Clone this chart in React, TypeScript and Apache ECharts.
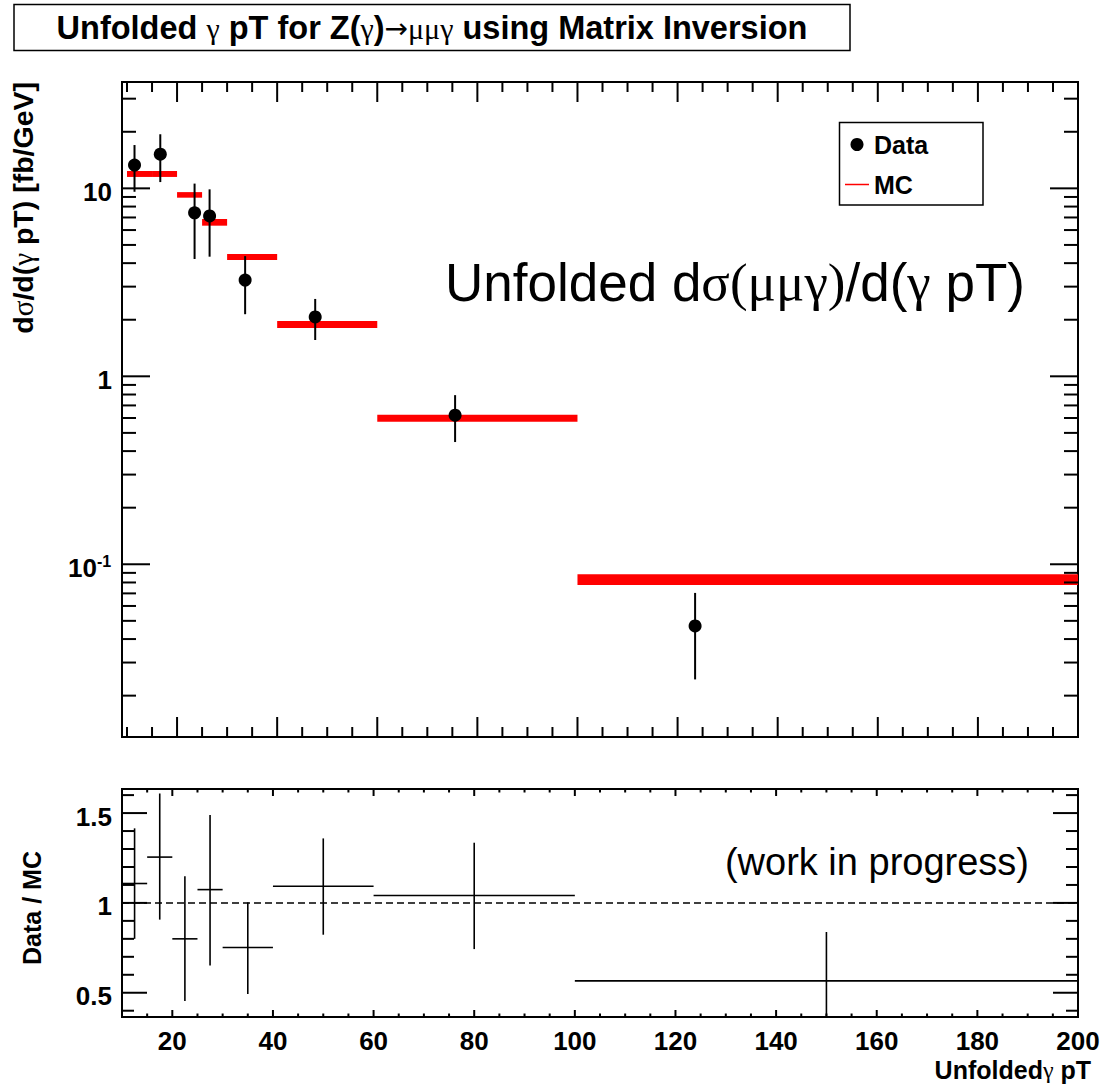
import React, { useEffect, useRef } from "react";
import * as echarts from "echarts";

const W = 1109;
const H = 1088;

// ---- axis ranges
const xRangeTop = [9, 200];
const xRangeBottom = [10, 200];
const yRangeTop = [0.01205, 36.8];
const yRangeBottom = [0.365, 1.634];

// ---- MC prediction (bin edges and band edges, fb/GeV)
const mcBinLo = [10, 15, 20, 25, 30, 40, 60, 100];
const mcBinHi = [15, 20, 25, 30, 40, 60, 100, 200];
const mcBandLo = [11.5, 11.5, 8.92, 6.33, 4.16, 1.81, 0.573, 0.0776];
const mcBandHi = [12.37, 12.37, 9.55, 6.87, 4.47, 1.97, 0.624, 0.0885];

// ---- unfolded data
const dataX = [11.5, 16.65, 23.5, 26.5, 33.6, 47.6, 75.55, 123.5];
const dataY = [13.3, 15.2, 7.41, 7.13, 3.25, 2.07, 0.621, 0.047];
const dataErrLo = [9.59, 10.8, 4.21, 4.33, 2.14, 1.56, 0.447, 0.0244];
const dataErrHi = [17.0, 19.4, 10.6, 9.88, 4.36, 2.58, 0.794, 0.0704];

// ---- ratio Data / MC
const ratioBinLo = [10, 15, 20, 25, 30, 40, 60, 100];
const ratioBinHi = [15, 20, 25, 30, 40, 60, 100, 200];
const ratioY = [1.108, 1.255, 0.8, 1.074, 0.752, 1.093, 1.041, 0.566];
const ratioErrLo = [0.8, 0.907, 0.454, 0.651, 0.493, 0.823, 0.743, 0.3];
const ratioErrHi = [1.415, 1.609, 1.149, 1.489, 1.003, 1.359, 1.335, 0.838];

// ---- ticks and tick labels
const xMajorTicks = [20, 40, 60, 80, 100, 120, 140, 160, 180, 200];
const xMinorTicks = [10, 15, 25, 30, 35, 45, 50, 55, 65, 70, 75, 85, 90, 95, 105, 110, 115, 125, 130, 135, 145, 150, 155, 165, 170, 175, 185, 190, 195];
const xTickLabels = ["20", "40", "60", "80", "100", "120", "140", "160", "180", "200"];
const yTopMajorTicks = [0.1, 1, 10];
const yTopMinorTicks = [0.02, 0.03, 0.04, 0.05, 0.06, 0.07, 0.08, 0.09, 0.2, 0.3, 0.4, 0.5, 0.6, 0.7, 0.8, 0.9, 2, 3, 4, 5, 6, 7, 8, 9, 20, 30];
const yTopLabelBase = ["10", "1", "10"];
const yTopLabelExp = ["-1", "", ""];
const yBotMajorTicks = [0.5, 1, 1.5];
const yBotMinorTicks = [0.4, 0.6, 0.7, 0.8, 0.9, 1.1, 1.2, 1.3, 1.4, 1.6];
const yBotTickLabels = ["0.5", "1", "1.5"];

const SANS = "Liberation Sans, Arial, Helvetica, sans-serif";
const SERIF = "Liberation Serif, DejaVu Serif, serif";

function txt(x: number, y: number, text: string, size: number, align: string, vAlign: string, extra: any = {}) {
  return {
    type: "text",
    x,
    y,
    style: {
      text,
      fill: "#000",
      fontSize: size,
      fontWeight: "bold",
      fontFamily: SANS,
      align,
      verticalAlign: vAlign,
      textAlign: align,
      textVerticalAlign: vAlign,
      ...extra,
    },
  };
}

function frameTicks(gi: number, xr: number[], yr: number[], L: any, opts: any) {
  return {
    type: "custom",
    xAxisIndex: gi,
    yAxisIndex: gi,
    silent: true,
    z: 6,
    data: [[xr[0], yr[0]]],
    renderItem: (_params: any, api: any) => {
      const ch: any[] = [];
      const lb = api.coord([xr[0], yr[0]]);
      const rt = api.coord([xr[1], yr[1]]);
      const left = lb[0], bottom = lb[1], right = rt[0], top = rt[1];
      const ln = (x1: number, y1: number, x2: number, y2: number) =>
        ch.push({ type: "line", shape: { x1, y1, x2, y2 }, style: { stroke: "#000", lineWidth: 2 } });
      const xt = (v: number, l: number) => {
        const x = api.coord([v, yr[0]])[0];
        ln(x, bottom, x, bottom - l);
        ln(x, top, x, top + l);
      };
      const yt = (v: number, l: number) => {
        const y = api.coord([xr[0], v])[1];
        ln(left, y, left + l, y);
        ln(right, y, right - l, y);
      };
      xMajorTicks.forEach((v) => xt(v, L.xMaj));
      xMinorTicks.forEach((v) => v > xr[0] && xt(v, L.xMin));
      opts.yMaj.forEach((v: number) => yt(v, L.yMaj));
      opts.yMin.forEach((v: number) => yt(v, L.yMin));
      opts.yMaj.forEach((v: number, i: number) => {
        const y = api.coord([xr[0], v])[1];
        if (opts.exp && opts.exp[i]) {
          ch.push(txt(97, y + 3.5, opts.yLab[i], 26, "right", "middle"));
          ch.push(txt(97, y - 3, opts.exp[i], 16, "left", "middle"));
        } else {
          ch.push(txt(112, y + 3.5, opts.yLab[i], 26, "right", "middle"));
        }
      });
      if (opts.xLab) {
        xMajorTicks.forEach((v, i) => {
          const x = api.coord([v, yr[0]])[0];
          ch.push(txt(x, bottom + 24, opts.xLab[i], 26, "center", "middle"));
        });
      }
      return { type: "group", children: ch };
    },
  };
}

function buildOption() {
  const mcData = mcBinLo.map((lo, i) => [lo, mcBinHi[i], mcBandLo[i], mcBandHi[i]]);
  const errData = dataX.map((x, i) => [x, dataErrLo[i], dataErrHi[i]]);
  const pointData = dataX.map((x, i) => [x, dataY[i]]);
  const ratioData = ratioBinLo.map((lo, i) => [lo, ratioBinHi[i], ratioY[i], ratioErrLo[i], ratioErrHi[i]]);

  return {
    animation: false,
    backgroundColor: "#fff",
    grid: [
      { left: 122, top: 82, width: 956, height: 655, show: true, borderColor: "#000", borderWidth: 2, backgroundColor: "transparent" },
      { left: 122, top: 789, width: 956, height: 228, show: true, borderColor: "#000", borderWidth: 2, backgroundColor: "transparent" },
    ],
    xAxis: [
      { gridIndex: 0, type: "value", min: xRangeTop[0], max: xRangeTop[1], show: false },
      { gridIndex: 1, type: "value", min: xRangeBottom[0], max: xRangeBottom[1], show: false },
    ],
    yAxis: [
      { gridIndex: 0, type: "log", min: yRangeTop[0], max: yRangeTop[1], show: false },
      { gridIndex: 1, type: "value", min: yRangeBottom[0], max: yRangeBottom[1], show: false },
    ],
    series: [
      {
        type: "custom",
        name: "MC",
        xAxisIndex: 0,
        yAxisIndex: 0,
        z: 2,
        encode: { x: [0, 1], y: [2, 3] },
        data: mcData,
        renderItem: (_p: any, api: any) => {
          const a = api.coord([api.value(0), api.value(3)]);
          const b = api.coord([api.value(1), api.value(2)]);
          return {
            type: "rect",
            shape: { x: a[0], y: a[1], width: b[0] - a[0], height: b[1] - a[1] },
            style: { fill: "#ff0000" },
          };
        },
      },
      {
        type: "custom",
        name: "DataErr",
        xAxisIndex: 0,
        yAxisIndex: 0,
        z: 4,
        encode: { x: 0, y: [1, 2] },
        data: errData,
        renderItem: (_p: any, api: any) => {
          const a = api.coord([api.value(0), api.value(1)]);
          const b = api.coord([api.value(0), api.value(2)]);
          return { type: "line", shape: { x1: a[0], y1: a[1], x2: b[0], y2: b[1] }, style: { stroke: "#000", lineWidth: 2 } };
        },
      },
      {
        type: "scatter",
        name: "Data",
        xAxisIndex: 0,
        yAxisIndex: 0,
        z: 5,
        symbol: "circle",
        symbolSize: 13,
        itemStyle: { color: "#000", opacity: 1 },
        data: pointData,
      },
      {
        type: "line",
        name: "unity",
        xAxisIndex: 1,
        yAxisIndex: 1,
        z: 3,
        symbol: "none",
        lineStyle: { color: "#000", width: 1.5, type: [7, 4] },
        data: [
          [xRangeBottom[0], 1],
          [xRangeBottom[1], 1],
        ],
      },
      {
        type: "custom",
        name: "Ratio",
        xAxisIndex: 1,
        yAxisIndex: 1,
        z: 4,
        encode: { x: [0, 1], y: [2, 3, 4] },
        data: ratioData,
        renderItem: (_p: any, api: any) => {
          const lo = api.value(0), hi = api.value(1), y = api.value(2);
          const el = Math.max(api.value(3), yRangeBottom[0]);
          const eh = Math.min(api.value(4), yRangeBottom[1]);
          const xc = (lo + hi) / 2;
          const h1 = api.coord([lo, y]);
          const h2 = api.coord([hi, y]);
          const v1 = api.coord([xc, el]);
          const v2 = api.coord([xc, eh]);
          const st = { stroke: "#000", lineWidth: 1.6 };
          return {
            type: "group",
            children: [
              { type: "line", shape: { x1: h1[0], y1: h1[1], x2: h2[0], y2: h2[1] }, style: st },
              { type: "line", shape: { x1: v1[0], y1: v1[1], x2: v2[0], y2: v2[1] }, style: st },
            ],
          };
        },
      },
      frameTicks(0, xRangeTop, yRangeTop, { xMaj: 20, xMin: 10, yMaj: 28, yMin: 14 }, {
        yMaj: yTopMajorTicks,
        yMin: yTopMinorTicks,
        yLab: yTopLabelBase,
        exp: yTopLabelExp,
      }),
      frameTicks(1, xRangeBottom, yRangeBottom, { xMaj: 7, xMin: 3.5, yMaj: 25, yMin: 12 }, {
        yMaj: yBotMajorTicks,
        yMin: yBotMinorTicks,
        yLab: yBotTickLabels,
        xLab: xTickLabels,
      }),
    ],
    graphic: [
      // title box
      { type: "rect", shape: { x: 14, y: 4.5, width: 836, height: 46 }, style: { fill: "#fff", stroke: "#000", lineWidth: 1.5 } },
      txt(432, 28, "Unfolded {g|γ} pT for Z({g|γ}){a|→}{g|μμγ} using Matrix Inversion", 32.5, "center", "middle", {
        rich: {
          g: { fontFamily: SERIF, fontSize: 30, fontWeight: "normal", fill: "#000" },
          a: { fontFamily: "DejaVu Sans", fontSize: 28, fontWeight: "normal", fill: "#000" },
        },
      }),
      // y axis titles
      {
        ...txt(23, 82, "d{g|σ}/d({g|γ} pT) [fb/GeV]", 28.5, "right", "middle", {
          rich: { g: { fontFamily: SERIF, fontSize: 29, fontWeight: "normal", fill: "#000" } },
        }),
        rotation: Math.PI / 2,
      },
      { ...txt(32, 908, "Data / MC", 25, "center", "middle"), rotation: Math.PI / 2 },
      // x axis title
      txt(1091, 1070, "Unfolded{g|γ} pT", 25, "right", "middle", {
        rich: { g: { fontFamily: SERIF, fontSize: 24, fontWeight: "normal", fill: "#000" } },
      }),
      // legend
      { type: "rect", shape: { x: 839.5, y: 122.5, width: 143.5, height: 82.5 }, style: { fill: "#fff", stroke: "#000", lineWidth: 1.5 }, z: 10 },
      { type: "circle", shape: { cx: 857, cy: 144.5, r: 6.5 }, style: { fill: "#000" }, z: 11 },
      { ...txt(874, 145, "Data", 25, "left", "middle"), z: 11 },
      { type: "line", shape: { x1: 845, y1: 184.5, x2: 869, y2: 184.5 }, style: { stroke: "#ff0000", lineWidth: 1.5 }, z: 11 },
      { ...txt(874, 185, "MC", 25, "left", "middle"), z: 11 },
      // annotations
      txt(445, 282, "Unfolded d{g|σ(μμγ)}/d({g|γ} pT)", 53, "left", "middle", {
        fontWeight: "normal",
        rich: { g: { fontFamily: SERIF, fontSize: 53, fontWeight: "normal", fill: "#000" } },
      }),
      txt(1029, 862, "(work in progress)", 38, "right", "middle", { fontWeight: "normal" }),
    ],
  };
}

export default function App() {
  const ref = useRef<HTMLDivElement>(null);
  useEffect(() => {
    const chart = echarts.init(ref.current!, null, { renderer: "svg" });
    chart.setOption(buildOption() as any);
    return () => chart.dispose();
  }, []);
  return (
    <div
      ref={ref}
      style={{ position: "fixed", left: 0, top: 0, width: W, height: H, background: "#fff" }}
    />
  );
}
